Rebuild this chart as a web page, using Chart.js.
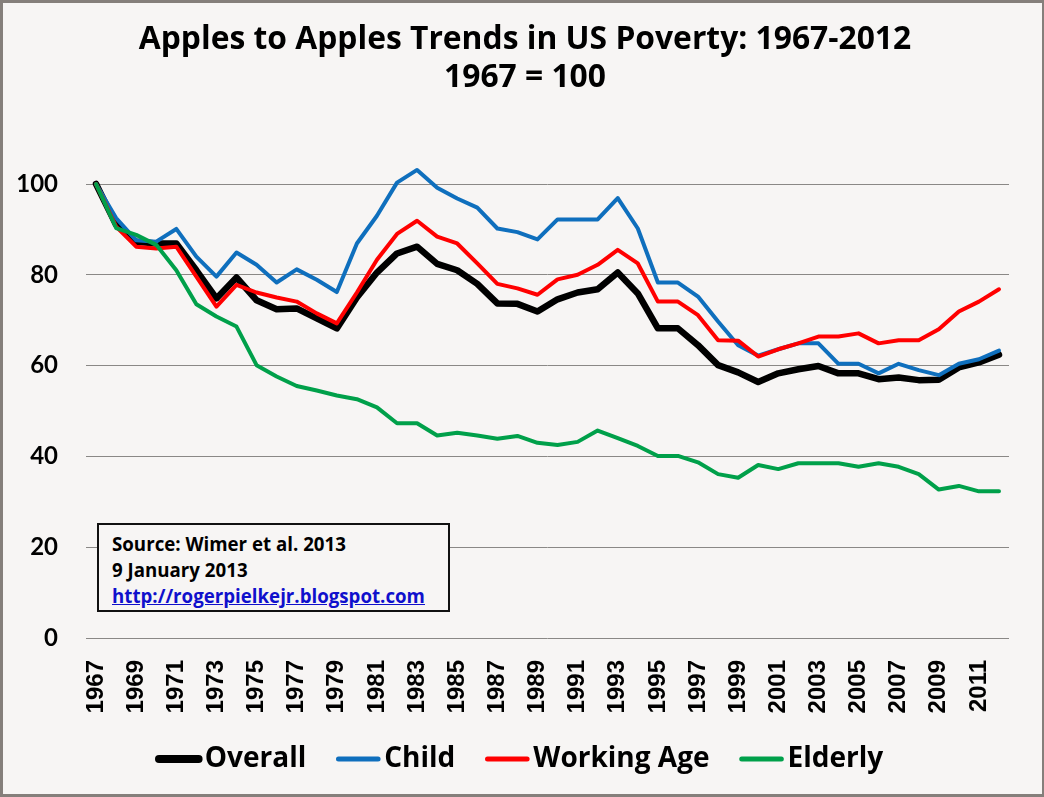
<!DOCTYPE html>
<html>
<head>
<meta charset="utf-8">
<script src="https://cdn.jsdelivr.net/npm/chart.js"></script>
<style>
  html, body { margin: 0; padding: 0; background: #f7f5f4; }
  #frame { position: absolute; left: 0; top: 0; width: 1044px; height: 797px; box-sizing: border-box;
           border: 3px solid #857f7b; border-right-width: 2px; background: #f7f5f4; }
  #c { display: block; }
  #note { position: absolute; left: 97px; top: 523px; width: 353px; height: 89px; box-sizing: border-box;
          border: 2px solid #111; background: #f7f5f4; padding: 6px 0 0 13px;
          font-family: "Open Sans", Lato, sans-serif; font-weight: bold; font-size: 18.7px; line-height: 26px; color: #000; }
  #note a { color: #1010cc; text-decoration: underline; }
</style>
</head>
<body>
<div id="frame"><canvas id="c" width="1039" height="791"></canvas></div>
<div id="note">Source: Wimer et al. 2013<br>9 January 2013<br><a href="http://rogerpielkejr.blogspot.com">http://rogerpielkejr.blogspot.com</a></div>
<script>
const years = ["1967","1968","1969","1970","1971","1972","1973","1974","1975","1976","1977","1978","1979","1980","1981","1982","1983","1984","1985","1986","1987","1988","1989","1990","1991","1992","1993","1994","1995","1996","1997","1998","1999","2000","2001","2002","2003","2004","2005","2006","2007","2008","2009","2010","2011","2012"];

const overall = [100, 91, 87.3, 86.9, 86.9, 81, 74.8, 79.4, 74.4, 72.4, 72.6, 70.4, 68.2, 75, 80.5, 84.7, 86.2, 82.4, 81, 78, 73.7, 73.6, 71.9, 74.6, 76.1, 76.8, 80.5, 75.9, 68.2, 68.2, 64.5, 60.1, 58.5, 56.4, 58.3, 59.2, 59.9, 58.3, 58.3, 57, 57.4, 56.8, 56.9, 59.6, 60.7, 62.4];

const child = [100, 92.5, 87.6, 87.3, 90.1, 84, 79.6, 84.9, 82.2, 78.3, 81.2, 78.9, 76.2, 86.9, 93, 100.3, 103.1, 99.2, 96.8, 94.8, 90.2, 89.4, 87.8, 92.2, 92.2, 92.2, 96.9, 90.2, 78.3, 78.3, 75.2, 69.7, 64.5, 62.2, 63.6, 64.9, 64.9, 60.4, 60.4, 58.3, 60.4, 59, 57.9, 60.4, 61.4, 63.3];

const workingAge = [100, 90.6, 86.2, 85.8, 86.2, 79.6, 73, 77.8, 76.1, 75, 74.1, 71.5, 69.3, 76.1, 83.3, 89, 91.9, 88.4, 86.9, 82.5, 78, 77, 75.6, 79, 80, 82.2, 85.5, 82.5, 74.1, 74.1, 71.1, 65.6, 65.5, 62, 63.6, 64.9, 66.4, 66.4, 67.1, 64.9, 65.6, 65.6, 68, 71.9, 74.1, 76.8];

const elderly = [100, 90.3, 88.8, 86.6, 81, 73.5, 70.8, 68.6, 60.1, 57.6, 55.5, 54.5, 53.4, 52.6, 50.8, 47.3, 47.3, 44.6, 45.2, 44.6, 43.9, 44.5, 43, 42.5, 43.2, 45.7, 44, 42.3, 40.1, 40.1, 38.7, 36.1, 35.3, 38.1, 37.2, 38.5, 38.5, 38.5, 37.7, 38.5, 37.7, 36.1, 32.7, 33.5, 32.3, 32.3];

const seriesNames = ["Overall", "Child", "Working Age", "Elderly"];
const titleLines = ["Apples to Apples Trends in US Poverty: 1967-2012", "1967 = 100"];

function ds(label, data, color, width, order) {
  return { label, data, borderColor: color, backgroundColor: color, borderWidth: width,
           pointRadius: 0, pointHoverRadius: 0, tension: 0, fill: false, clip: false,
           borderJoinStyle: 'round', borderCapStyle: 'round', order };
}

// let tick labels extend past the reserved axis boxes (no clipping)
const unclipLabels = {
  id: 'unclipLabels',
  afterLayout(chart) {
    chart.scales.x.bottom = chart.height;
    chart.scales.y.left = 0;
  }
};

new Chart(document.getElementById('c'), {
  type: 'line',
  data: {
    labels: years,
    datasets: [
      ds(seriesNames[0], overall, '#000000', 6.5, 4),
      ds(seriesNames[1], child, '#0f6fbd', 4, 3),
      ds(seriesNames[2], workingAge, '#ff0000', 4, 2),
      ds(seriesNames[3], elderly, '#00a04a', 4, 1)
    ]
  },
  plugins: [unclipLabels],
  options: {
    responsive: false,
    animation: false,
    devicePixelRatio: 1,
    layout: { padding: { left: 24, right: 19, top: 0, bottom: 11 } },
    plugins: {
      title: {
        display: true,
        text: titleLines,
        color: '#000',
        font: { family: '"Open Sans"', weight: 'bold', size: 31.8, lineHeight: 1.195 },
        padding: { top: 18, bottom: 87 }
      },
      legend: {
        display: true,
        position: 'bottom',
        labels: {
          usePointStyle: true,
          pointStyle: 'line',
          boxWidth: 24,
          boxHeight: 28,
          padding: 40,
          color: '#000',
          font: { family: '"Open Sans"', weight: 'bold', size: 28 },
          sort: (a, b) => a.datasetIndex - b.datasetIndex,
          generateLabels: (chart) => {
            const items = Chart.defaults.plugins.legend.labels.generateLabels(chart);
            items.forEach(it => {
              it.lineWidth = it.datasetIndex === 0 ? 8 : 5;
              it.lineCap = 'round';
              it.pointStyle = 'line';
            });
            return items;
          }
        }
      },
      tooltip: { enabled: false }
    },
    scales: {
      x: {
        offset: true,
        grid: { display: false, offset: true },
        border: { display: false },
        afterFit: (s) => { s.height = 67; },
        ticks: {
          autoSkip: false,
          maxRotation: 90,
          minRotation: 90,
          padding: 14,
          color: '#000',
          font: { family: '"Liberation Sans", Arial, sans-serif', weight: 'bold', size: 24 },
          callback: function(v, i) { return i % 2 === 0 ? this.getLabelForValue(v) : ''; }
        }
      },
      y: {
        min: 0,
        max: 100,
        afterFit: (s) => { s.width = 59; },
        grid: { color: '#8a8886', lineWidth: 1, drawTicks: false },
        border: { display: false },
        ticks: {
          stepSize: 20,
          padding: 28,
          color: '#000',
          font: { family: 'Lato', weight: 'bold', size: 24 }
        }
      }
    }
  }
});
</script>
</body>
</html>
